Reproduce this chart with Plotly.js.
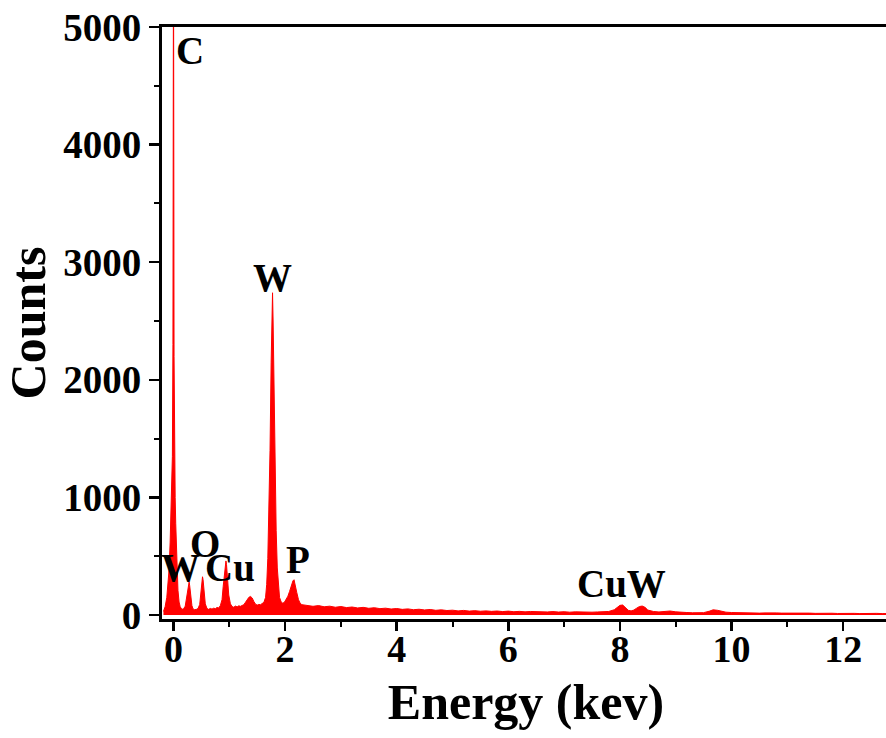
<!DOCTYPE html>
<html>
<head>
<meta charset="utf-8">
<script src="https://cdn.plot.ly/plotly-3.0.1.min.js"></script>
<style>
html,body{margin:0;padding:0;overflow:hidden;background:#fff;}
#chart{width:900px;height:738px;}
</style>
</head>
<body>
<div id="chart"></div>
<script>
// EDS spectrum
const energy = [
 -0.18,-0.15,-0.12,-0.10,-0.08,-0.06,-0.04,-0.03,-0.02,-0.01,0.00,0.01,0.02,0.03,0.04,0.06,0.08,0.10,0.12,0.15,
 0.18,0.21,0.23,0.25,0.27,0.28,0.29,0.31,0.33,0.35,0.38,0.41,0.44,0.47,0.49,0.51,0.52,0.53,0.55,0.57,
 0.60,0.63,0.66,0.69,0.72,0.75,0.78,0.81,0.84,0.87,0.89,0.91,0.93,0.94,0.95,0.97,0.99,1.02,1.05,1.08,
 1.11,1.14,1.17,1.20,1.23,1.26,1.29,1.32,1.35,1.38,1.41,1.44,1.47,1.50,1.53,1.56,1.59,1.62,1.65,1.67,
 1.69,1.71,1.73,1.75,1.765,1.775,1.785,1.80,1.82,1.84,1.86,1.88,1.90,1.93,1.96,1.99,2.02,2.05,2.08,2.11,
 2.14,2.16,2.18,2.21,2.24,2.27,2.30,2.4,2.5,2.6,2.7,2.8,2.9,3.0,3.1,3.2,3.3,3.4,3.5,3.6,
 3.7,3.8,3.9,4.0,4.1,4.2,4.3,4.4,4.5,4.6,4.7,4.8,4.9,5.0,5.1,5.2,5.3,5.4,5.5,5.6,
 5.7,5.8,5.9,6.0,6.1,6.2,6.3,6.4,6.5,6.6,6.7,6.8,6.9,7.0,7.1,7.2,7.3,7.4,7.5,7.6,
 7.7,7.8,7.9,7.95,8.0,8.05,8.1,8.15,8.2,8.25,8.3,8.35,8.4,8.45,8.5,8.6,8.7,8.8,8.9,9.0,
 9.1,9.2,9.3,9.4,9.5,9.6,9.67,9.75,9.85,9.9,10.0,10.1,10.2,10.3,10.4,10.5,10.6,10.7,10.8,10.9,
 11.0,11.1,11.2,11.3,11.4,11.5,11.6,11.7,11.8,11.9,12.0,12.1,12.2,12.3,12.4,12.5,12.6,12.7,12.8,12.9,13.0
];
const counts = [
 30,70,150,240,380,620,950,1100,1350,2300,5900,2200,1250,1000,780,430,210,110,70,48,
 52,75,140,220,270,280,250,150,80,52,45,48,55,90,180,290,325,300,190,95,
 55,48,56,50,58,54,64,60,80,130,240,360,450,460,430,300,170,95,72,66,
 76,69,78,74,84,88,108,130,150,158,145,115,92,84,90,88,98,108,150,260,
 480,850,1400,2150,2550,2740,2500,1950,1250,720,400,230,150,110,100,110,130,160,200,250,
 290,300,265,190,130,100,88,80,74,80,70,75,66,72,63,68,60,65,57,62,
 54,58,51,55,48,52,45,49,43,47,40,44,38,41,35,39,33,37,32,35,
 31,34,29,33,28,31,27,30,27,29,26,29,25,28,24,27,25,27,24,26,
 28,30,45,65,82,85,60,40,35,42,58,72,76,65,42,30,26,28,34,27,
 22,21,19,22,20,32,44,40,27,24,21,19,20,17,19,16,18,15,18,16,
 17,15,17,14,16,14,16,14,15,13,15,13,14,12,14,13,14,12,14,12,13
];
// peak labels: element, energy position, counts position
const labelText = ["C","W","O","W","Cu","P","CuW"];
const labelE    = [0.29, 1.78, 0.565, 0.12, 1.02, 2.23, 8.02];
const labelC    = [4800, 2870, 610, 400, 400, 475, 270];

const serif = "'Liberation Serif','Times New Roman',serif";

const trace = {
  x: energy, y: counts, type: 'scatter', mode: 'lines',
  line: {color: '#ff0000', width: 1},
  fill: 'tozeroy', fillcolor: '#ff0000',
  hoverinfo: 'skip'
};

const annotations = labelText.map((t, i) => ({
  x: labelE[i], y: labelC[i], xref: 'x', yref: 'y',
  text: t, showarrow: false, xanchor: 'center', yanchor: 'middle',
  font: {family: serif, size: 39, color: '#000', weight: 'bold'}
}));

const layout = {
  width: 900, height: 738,
  margin: {l: 162, r: 10, t: 27, b: 119},
  paper_bgcolor: '#fff', plot_bgcolor: '#fff',
  showlegend: false,
  xaxis: {
    range: [-0.206, 12.84],
    showgrid: false, zeroline: false,
    showline: true, linecolor: '#000', linewidth: 3, mirror: true,
    ticks: 'outside', ticklen: 9, tickwidth: 2.5, tickcolor: '#000',
    dtick: 2, tick0: 0,
    minor: {dtick: 1, tick0: 0, ticks: 'outside', ticklen: 5, tickwidth: 2, tickcolor: '#000', showgrid: false},
    tickfont: {family: serif, size: 38, color: '#000', weight: 'bold'},
    ticklabelstandoff: -15,
    title: {text: 'Energy (kev)', font: {family: serif, size: 50, color: '#000', weight: 'bold'}, standoff: 16}
  },
  yaxis: {
    range: [-34, 5000],
    showgrid: false, zeroline: false,
    showline: true, linecolor: '#000', linewidth: 3, mirror: true,
    ticks: 'outside', ticklen: 10, tickwidth: 2.5, tickcolor: '#000',
    dtick: 1000, tick0: 0,
    minor: {dtick: 500, tick0: 0, ticks: 'outside', ticklen: 5, tickwidth: 2, tickcolor: '#000', showgrid: false},
    tickfont: {family: serif, size: 39, color: '#000', weight: 'bold'},
    ticklabelstandoff: 0,
    title: {text: 'Counts', font: {family: serif, size: 50, color: '#000', weight: 'bold'}, standoff: 12}
  },
  annotations: annotations
};

Plotly.newPlot('chart', [trace], layout, {staticPlot: true, displayModeBar: false});
</script>
</body>
</html>
